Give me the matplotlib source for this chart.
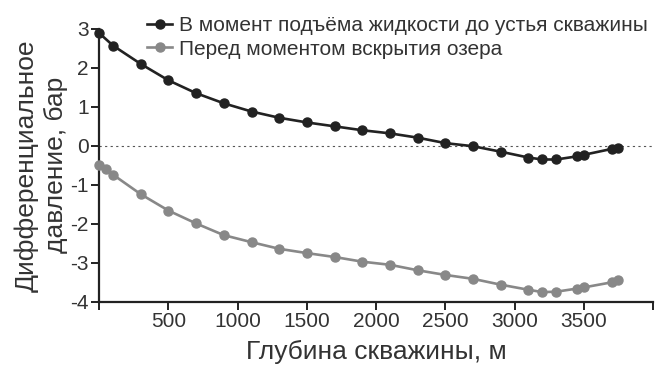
"""
plot.py
Differential pressure versus well depth, two states of the well
"""

import matplotlib
matplotlib.use('Agg')
import matplotlib.pyplot as plt

plt.rcParams['font.family'] = ['Liberation Sans', 'DejaVu Sans']
plt.rcParams['axes.unicode_minus'] = False

# depth, m
depth_lift = [0, 100, 300, 500, 700, 900, 1100, 1300, 1500, 1700, 1900,
              2100, 2300, 2500, 2700, 2900, 3100, 3200, 3300, 3450, 3500,
              3700, 3750]
dp_lift = [2.89, 2.57, 2.10, 1.68, 1.35, 1.09, 0.88, 0.72, 0.60, 0.50, 0.40,
           0.32, 0.21, 0.07, -0.01, -0.15, -0.30, -0.35, -0.35, -0.27, -0.23,
           -0.08, -0.06]

depth_open = [0, 50, 100, 300, 500, 700, 900, 1100, 1300, 1500, 1700, 1900,
              2100, 2300, 2500, 2700, 2900, 3100, 3200, 3300, 3450, 3500,
              3700, 3750]
dp_open = [-0.50, -0.59, -0.74, -1.24, -1.66, -1.99, -2.29, -2.47, -2.64,
           -2.75, -2.85, -2.97, -3.05, -3.19, -3.31, -3.41, -3.56, -3.69,
           -3.75, -3.74, -3.66, -3.63, -3.50, -3.44]

label_lift = 'В момент подъёма жидкости до устья скважины'
label_open = 'Перед моментом вскрытия озера'

x_ticks = [0, 500, 1000, 1500, 2000, 2500, 3000, 3500, 4000]
x_tick_labels = ['', '500', '1000', '1500', '2000', '2500', '3000', '3500', '']
y_ticks = [-4, -3, -2, -1, 0, 1, 2, 3]

fig = plt.figure(figsize=(6.57, 3.65), dpi=100)
ax = fig.add_axes([0.151, 0.173, 0.843, 0.748])

ax.axhline(0, color='#555555', lw=0.8, ls=(0, (2, 3)), zorder=1)

ax.plot(depth_lift, dp_lift, '-o', color='#222222', lw=1.9, ms=6.5,
        label=label_lift, clip_on=False, zorder=3)
ax.plot(depth_open, dp_open, '-o', color='#888888', lw=1.9, ms=6.5,
        label=label_open, clip_on=False, zorder=3)

ax.set_xlim(0, 4000)
ax.set_ylim(-4, 3)
ax.set_xticks(x_ticks)
ax.set_xticklabels(x_tick_labels)
ax.set_yticks(y_ticks)

for side in ['top', 'right']:
    ax.spines[side].set_visible(False)
for side in ['left', 'bottom']:
    ax.spines[side].set_linewidth(1.6)
    ax.spines[side].set_color('#222222')

ax.tick_params(direction='out', length=6, width=1.4, color='#222222',
               labelsize=15, labelcolor='#333333', pad=1.5)

ax.set_xlabel('Глубина скважины, м', fontsize=19, color='#333333',
              labelpad=6)
ax.set_ylabel('Дифференциальное\nдавление, бар', fontsize=19,
              color='#333333', labelpad=2, linespacing=1.25)

ax.legend(loc='upper left', bbox_to_anchor=(147 / 657, 1 - 16 / 365),
          bbox_transform=fig.transFigure, frameon=False, fontsize=15,
          handlelength=1.2, handletextpad=0.35, labelspacing=0.22,
          borderaxespad=0, borderpad=0, labelcolor='#333333')

fig.savefig('out.png', dpi=100)
